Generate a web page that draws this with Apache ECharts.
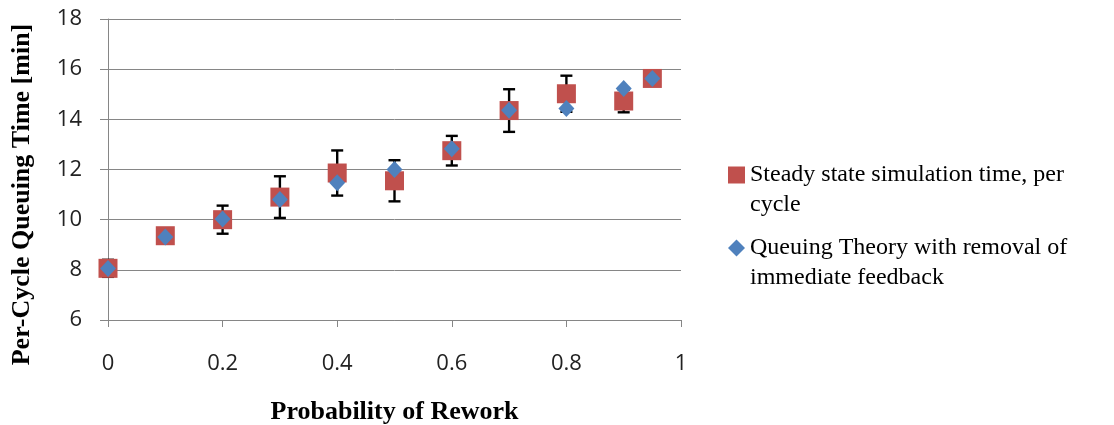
<!DOCTYPE html>
<html><head><meta charset="utf-8">
<script src="https://cdn.jsdelivr.net/npm/echarts@6/dist/echarts.min.js"></script>
<style>html,body{margin:0;padding:0;background:#fff}#c{width:1114px;height:425px}</style>
</head><body><div id="c"></div>
<script>
const probs = [0, 0.1, 0.2, 0.3, 0.4, 0.5, 0.6, 0.7, 0.8, 0.9, 0.95];
const simTime = [8.06, 9.36, 10.0, 10.9, 11.86, 11.55, 12.75, 14.35, 15.02, 14.73, 15.63];
const simErr = [0.34, 0.15, 0.56, 0.83, 0.9, 0.82, 0.59, 0.85, 0.72, 0.45, 0.1];
const theory = [8.05, 9.31, 10.03, 10.8, 11.47, 12.0, 12.83, 14.36, 14.43, 15.23, 15.63];
const seriesNames = ['Steady state simulation time, per\ncycle', 'Queuing Theory with removal of\nimmediate feedback'];

const chart = echarts.init(document.getElementById('c'));
const serif = '"Liberation Serif", "DejaVu Serif", serif';
const sans = '"Open Sans", "Liberation Sans", sans-serif';
chart.setOption({
  animation: false,
  grid: {left: 108, right: 433, top: 19, bottom: 105, containLabel: false, outerBoundsMode: 'none'},
  xAxis: {
    type: 'value', min: 0, max: 1, interval: 0.2,
    name: 'Probability of Rework', nameLocation: 'middle', nameGap: 79,
    nameTextStyle: {fontFamily: serif, fontWeight: 'bold', fontSize: 26, color: '#000'},
    axisLine: {lineStyle: {color: '#868686', width: 1}},
    axisTick: {show: true, length: 7, lineStyle: {color: '#868686'}},
    axisLabel: {fontFamily: sans, fontSize: 22, color: '#222', margin: 33},
    splitLine: {show: false}
  },
  yAxis: {
    type: 'value', min: 6, max: 18, interval: 2,
    name: 'Per-Cycle Queuing Time [min]', nameLocation: 'middle', nameGap: 73,
    nameTextStyle: {fontFamily: serif, fontWeight: 'bold', fontSize: 26, color: '#000', padding: [0, 50, 0, 0]},
    axisLine: {show: true, lineStyle: {color: '#868686', width: 1}},
    axisTick: {show: true, length: 8, lineStyle: {color: '#868686'}},
    axisLabel: {fontFamily: sans, fontSize: 22, color: '#222', margin: 26},
    splitLine: {show: true, lineStyle: {color: '#868686', width: 1}}
  },
  legend: {
    orient: 'vertical', left: 728, top: 130, itemGap: -17, padding: 0,
    itemWidth: 17, itemHeight: 17,
    formatter: name => '\n' + name,
    textStyle: {fontFamily: serif, fontSize: 24, color: '#000', lineHeight: 30},
    data: [
      {name: seriesNames[0], icon: 'rect', itemStyle: {color: '#C0504D'}},
      {name: seriesNames[1], icon: 'diamond', itemStyle: {color: '#4F81BD'}}
    ]
  },
  series: [
    {
      type: 'custom', name: 'err', z: 1,
      data: probs.map((p, i) => [p, simTime[i] - simErr[i], simTime[i] + simErr[i]]),
      renderItem: function (params, api) {
        const lo = api.coord([api.value(0), api.value(1)]);
        const hi = api.coord([api.value(0), api.value(2)]);
        const w = 6;
        const st = {stroke: '#000', lineWidth: 2.4};
        return {type: 'group', children: [
          {type: 'line', shape: {x1: lo[0], y1: lo[1], x2: hi[0], y2: hi[1]}, style: st},
          {type: 'line', shape: {x1: lo[0] - w, y1: lo[1], x2: lo[0] + w, y2: lo[1]}, style: st},
          {type: 'line', shape: {x1: hi[0] - w, y1: hi[1], x2: hi[0] + w, y2: hi[1]}, style: st}
        ]};
      },
      silent: true
    },
    {
      type: 'scatter', name: seriesNames[0], z: 2,
      symbol: 'rect', symbolSize: 19,
      itemStyle: {color: '#C0504D', opacity: 1},
      data: probs.map((p, i) => [p, simTime[i]])
    },
    {
      type: 'scatter', name: seriesNames[1], z: 3,
      symbol: 'diamond', symbolSize: [16, 17],
      itemStyle: {color: '#4F81BD', opacity: 1},
      data: probs.map((p, i) => [p, theory[i]])
    }
  ]
});
</script></body></html>
